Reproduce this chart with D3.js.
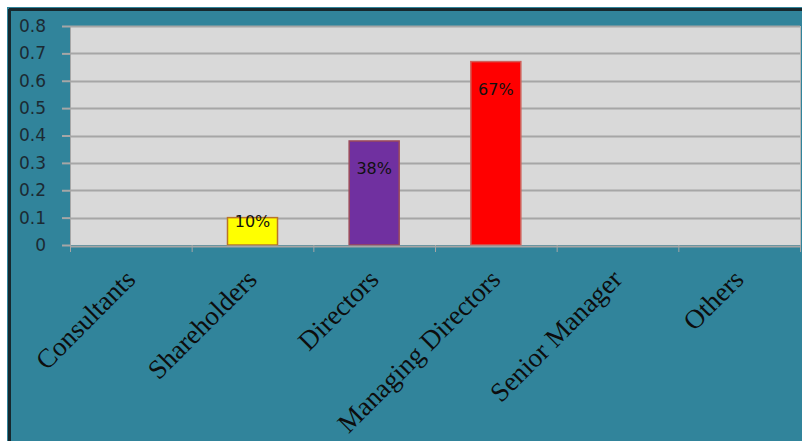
<!DOCTYPE html>
<html>
<head>
<meta charset="utf-8">
<script src="https://cdn.jsdelivr.net/npm/d3@7"></script>
<style>
  html, body { margin: 0; padding: 0; background: #ffffff; }
  svg { display: block; }
</style>
</head>
<body>
<svg id="chart" width="802" height="441"></svg>
<script>
// ---- data ----
const categories = ["Consultants", "Shareholders", "Directors", "Managing Directors", "Senior Manager", "Others"];
const values = [0, 0.10, 0.38, 0.67, 0, 0];
const labels = ["", "10%", "38%", "67%", "", ""];
const yTicks = [0, 0.1, 0.2, 0.3, 0.4, 0.5, 0.6, 0.7, 0.8];

// ---- styles ----
const fills = ["#4F81BD", "#FFFF00", "#7030A0", "#FF0000", "#4F81BD", "#4F81BD"];
const strokes = ["#953735", "#B8742A", "#9B4A5A", "#D0605A", "#953735", "#953735"];

const svg = d3.select("#chart");
const W = 802, H = 441;
const plot = { left: 70, right: 800, top: 26, bottom: 245 };

// outer teal panel with dark border on top/left
svg.append("rect").attr("x", 0).attr("y", 0).attr("width", W).attr("height", H).attr("fill", "#ffffff");
svg.append("rect").attr("x", 7).attr("y", 7).attr("width", W - 7).attr("height", H - 7).attr("fill", "#31849B");
svg.append("line").attr("x1", 9.5).attr("x2", 9.5).attr("y1", 9).attr("y2", H).attr("stroke", "#16282e").attr("stroke-width", 3);
svg.append("line").attr("x1", 9).attr("x2", W).attr("y1", 9.5).attr("y2", 9.5).attr("stroke", "#16282e").attr("stroke-width", 3);

const x = d3.scaleBand().domain(categories).range([plot.left, plot.right]).paddingInner(0).paddingOuter(0);
const y = d3.scaleLinear().domain([0, 0.8]).range([plot.bottom, plot.top]);

// plot background
svg.append("rect")
  .attr("x", plot.left).attr("y", plot.top)
  .attr("width", plot.right - plot.left).attr("height", plot.bottom - plot.top)
  .attr("fill", "#D9D9D9");

// gridlines
svg.append("g").selectAll("line").data(yTicks.filter(d => d > 0)).join("line")
  .attr("x1", plot.left).attr("x2", plot.right)
  .attr("y1", d => Math.round(y(d)) + 0.5).attr("y2", d => Math.round(y(d)) + 0.5)
  .attr("stroke", "#A6A6A6").attr("stroke-width", 2);

// plot borders left/right
svg.append("line").attr("x1", plot.left + 0.5).attr("x2", plot.left + 0.5).attr("y1", plot.top).attr("y2", plot.bottom)
  .attr("stroke", "#A6A6A6").attr("stroke-width", 1);
svg.append("line").attr("x1", plot.right + 0.5).attr("x2", plot.right + 0.5).attr("y1", plot.top).attr("y2", plot.bottom)
  .attr("stroke", "#B8B8B8").attr("stroke-width", 1);

// y axis
const yAxis = d3.axisLeft(y).tickValues(yTicks).tickSize(8).tickPadding(16)
  .tickFormat(d => d === 0 ? "0" : d3.format(".1f")(d));
const gy = svg.append("g").attr("transform", `translate(${plot.left},0)`).call(yAxis);
gy.select(".domain").remove();
gy.selectAll(".tick line").attr("stroke", "#A6A6A6").attr("stroke-width", 2);
gy.selectAll(".tick text")
  .attr("fill", "#1c2a33")
  .style("font-family", "'DejaVu Sans', Verdana, sans-serif")
  .style("font-size", "17px");

// bars
const bw = 50;
svg.append("g").selectAll("rect").data(values).join("rect")
  .filter(d => d > 0)
  .attr("x", (d, i) => x(categories[values.indexOf(d)]) + x.bandwidth() / 2 - bw / 2)
  .attr("y", d => y(d))
  .attr("width", bw)
  .attr("height", d => y(0) - y(d))
  .attr("fill", d => fills[values.indexOf(d)])
  .attr("stroke", d => strokes[values.indexOf(d)])
  .attr("stroke-width", 1.5);

// x axis line + ticks
const xAxis = d3.axisBottom(x).tickSize(0).tickFormat("");
const gx = svg.append("g").attr("transform", `translate(0,${plot.bottom + 1})`).call(xAxis);
gx.select(".domain").attr("stroke", "#A6A6A6").attr("stroke-width", 2);
gx.selectAll(".tick").remove();
svg.append("g").selectAll("line").data(d3.range(categories.length + 1)).join("line")
  .attr("x1", i => (i < categories.length ? x(categories[i]) : plot.right) + 0.5)
  .attr("x2", i => (i < categories.length ? x(categories[i]) : plot.right) + 0.5)
  .attr("y1", plot.bottom).attr("y2", plot.bottom + 7)
  .attr("stroke", "#A6A6A6").attr("stroke-width", 1);

// data labels
svg.append("g").selectAll("text").data(values).join("text")
  .filter((d, i) => labels[i] !== "")
  .attr("x", d => x(categories[values.indexOf(d)]) + x.bandwidth() / 2)
  .attr("y", d => { const h = y(0) - y(d); return y(d) + Math.min(33, h * 0.36); })
  .attr("text-anchor", "middle")
  .attr("fill", "#111111")
  .style("font-family", "'DejaVu Sans', Verdana, sans-serif")
  .style("font-size", "16px")
  .text(d => labels[values.indexOf(d)]);

// category labels
svg.append("g").selectAll("text").data(categories).join("text")
  .attr("transform", d => `translate(${x(d) + x.bandwidth() / 2 + 6},281) rotate(-45)`)
  .attr("text-anchor", "end")
  .attr("fill", "#0d0d0d")
  .style("font-family", "'Liberation Serif', 'Times New Roman', serif")
  .style("font-size", "27px")
  .text(d => d);
</script>
</body>
</html>
